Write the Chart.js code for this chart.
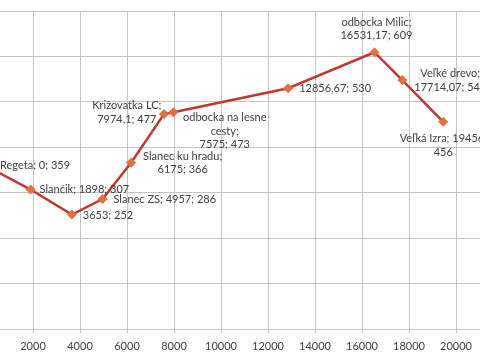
<!DOCTYPE html>
<html>
<head>
<meta charset="utf-8">
<script src="https://cdn.jsdelivr.net/npm/chart.js@4"></script>
<style>
  html, body { margin: 0; padding: 0; background: #fff; overflow: hidden; }
  #wrap { position: relative; width: 480px; height: 360px; overflow: hidden; }
  #chart { position: absolute; left: -60px; top: 0; }
</style>
</head>
<body>
<div id="wrap"><canvas id="chart" width="600" height="360"></canvas></div>
<script>
// route profile: distance (m) and altitude (m)
var names = ['Regeta', 'Slančik', '', 'Slanec ZS', 'Slanec ku hradu', 'odbocka na lesne cesty',
  'Križovatka LC', '', 'odbocka Milic', 'Veľké drevo', 'Veľká Izra'];
var distances = [0, 1898, 3653, 4957, 6175, 7575, 7974.1, 12856.67, 16531.17, 17714.07, 19456];
var altitudes = [359, 307, 252, 286, 366, 473, 477, 530, 609, 548, 456];

// how each label is laid out (text template, wrap width, side, dx, dy)
var labelFormat = ['{n}; {x}; {y}', '{n}; {x}; {y}', '{x}; {y}', '{n}; {x}; {y}', '{n};\n{x}; {y}',
  '{n};\n{x}; {y}', '{n};\n{x}; {y}', '{x}; {y}', '{n};\n{x}; {y}', '{n};\n{x}; {y}', '{n}; {x},\n{y}'];
var labelWrap = [0, 0, 0, 0, 0, 90, 0, 0, 0, 0, 0];
var labelPlace = [
  ['right', 14, 0], ['right', 9, 0], ['right', 11, 1], ['right', 11, 0], ['right', 12, 0],
  ['right', 19, 17], ['left', 12, 0], ['right', 11, 0], ['center', 2, -23.5], ['right', 12, 0.5],
  ['center', 0, 23.5]
];
var lineH = 13.5;

function fmt(v) { return String(v).replace('.', ','); }

function buildLines(i, ctx) {
  var txt = labelFormat[i].replace('{n}', names[i]).replace('{x}', fmt(distances[i])).replace('{y}', fmt(altitudes[i]));
  var out = [];
  txt.split('\n').forEach(function (part) {
    if (!labelWrap[i]) { out.push(part); return; }
    var cur = '';
    part.split(' ').forEach(function (w) {
      var test = cur ? cur + ' ' + w : w;
      if (cur && ctx.measureText(test).width > labelWrap[i]) { out.push(cur); cur = w; }
      else cur = test;
    });
    out.push(cur);
  });
  return out;
}

var labelPlugin = {
  id: 'pointLabels',
  afterDatasetsDraw: function (chart) {
    var ctx = chart.ctx;
    var meta = chart.getDatasetMeta(0);
    ctx.save();
    ctx.font = '11px Lato';
    ctx.fillStyle = '#404040';
    ctx.textAlign = 'center';
    ctx.textBaseline = 'middle';
    meta.data.forEach(function (pt, i) {
      var lines = buildLines(i, ctx);
      var w = Math.max.apply(null, lines.map(function (l) { return ctx.measureText(l).width; }));
      var p = labelPlace[i];
      var cx;
      if (p[0] === 'right') cx = pt.x + p[1] + w / 2;
      else if (p[0] === 'left') cx = pt.x - p[1] - w / 2;
      else cx = pt.x + p[1];
      var top = pt.y + p[2] - (lines.length - 1) * lineH / 2;
      lines.forEach(function (l, k) { ctx.fillText(l, cx, top + k * lineH); });
    });
    ctx.restore();
  }
};

var points = distances.map(function (d, i) { return { x: d, y: altitudes[i] }; });

var chart = new Chart(document.getElementById('chart').getContext('2d'), {
  type: 'scatter',
  data: {
    datasets: [{
      label: 'profil',
      data: points,
      showLine: true,
      borderColor: 'rgb(192, 56, 48)',
      borderWidth: 2.5,
      pointStyle: 'rectRot',
      pointRadius: 4.5,
      pointBackgroundColor: 'rgb(226, 112, 62)',
      pointBorderColor: 'rgb(226, 112, 62)',
      pointBorderWidth: 1
    }]
  },
  options: {
    responsive: false,
    animation: false,
    layout: { padding: { left: 0, right: 37, top: 11, bottom: 0 } },
    plugins: { legend: { display: false }, tooltip: { enabled: false } },
    scales: {
      x: {
        type: 'linear',
        min: 0,
        max: 22000,
        afterFit: function (s) { s.height = 31; },
        grid: { color: '#c4c4c4', lineWidth: 1, tickLength: 4, tickColor: '#c4c4c4' },
        border: { color: '#c4c4c4' },
        ticks: {
          stepSize: 2000, padding: 7, color: '#404040', font: { family: 'Lato', size: 11 }, maxRotation: 0,
          callback: function (v) { return String(v); }
        }
      },
      y: {
        min: 0,
        max: 700,
        afterFit: function (s) { s.width = 46; },
        grid: { color: '#c4c4c4', lineWidth: 1, tickLength: 4 },
        border: { color: '#c4c4c4' },
        ticks: { stepSize: 100, color: '#404040', font: { family: 'Lato', size: 11 } }
      }
    }
  },
  plugins: [labelPlugin]
});
</script>
</body>
</html>
